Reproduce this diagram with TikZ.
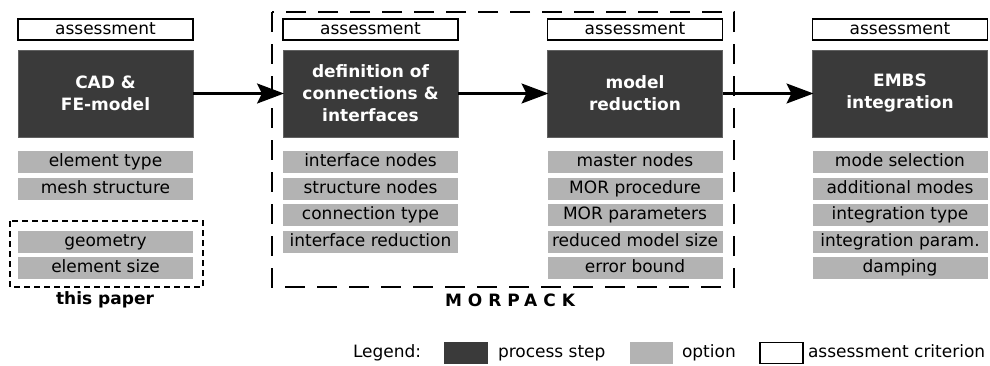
\documentclass[tikz,border=0pt]{standalone}
\usepackage{fontspec}
\setmainfont{DejaVu Sans}
\usetikzlibrary{arrows.meta}
\definecolor{darkbox}{HTML}{3A3A3A}
\definecolor{graybox}{HTML}{B3B3B3}
\tikzset{
  base/.style={inner sep=0pt, outer sep=0pt, font=\fontsize{17}{22}\selectfont, text height=12.5pt, text depth=3.5pt},
  assess/.style={base, draw=black, line width=1.3pt, fill=white, minimum width=175pt, minimum height=21pt},
  proc/.style={inner sep=0pt, outer sep=0pt, fill=darkbox, draw=darkbox!80!white, line width=0.8pt, text=white, align=center,
     font=\bfseries\fontsize{17}{22}\selectfont, minimum width=175pt, minimum height=87pt},
  opt/.style={base, fill=graybox, minimum width=175pt, minimum height=22pt},
  arr/.style={line width=2.5pt, -{Stealth[length=27pt,width=20pt,inset=5pt]}, shorten >=-1pt},
  lbl/.style={base, anchor=west},
}
\begin{document}
\begin{tikzpicture}[x=1pt,y=-1pt]
\useasboundingbox (0,0) rectangle (990,365);
% dashed groups
\draw[line width=1.4pt, dash pattern=on 6pt off 4pt] (10,221) rectangle (203,287);
\draw[line width=1.4pt, dash pattern=on 20pt off 12pt] (272,12) rectangle (734,287);
% column 1
\node[assess] (a1) at (105.5,29.5) {assessment};
\node[proc] (p1) at (105.5,93.5) {CAD \&\\FE-model};
\node[opt] (o11) at (105.5,162) {element type};
\node[opt] (o12) at (105.5,188.5) {mesh structure};
\node[opt] (o13) at (105.5,242) {geometry};
\node[opt] (o14) at (105.5,268) {element size};
\node[base, font=\bfseries\fontsize{17}{22}\selectfont] (tp) at (105,300) {this paper};
% column 2
\node[assess] (a2) at (370.5,29.5) {assessment};
\node[proc] (p2) at (370.5,93.5) {definition of\\connections \&\\interfaces};
\node[opt] (o21) at (370.5,162) {interface nodes};
\node[opt] (o22) at (370.5,188.5) {structure nodes};
\node[opt] (o23) at (370.5,215) {connection type};
\node[opt] (o24) at (370.5,241.5) {interface reduction};
% column 3
\node[assess] (a3) at (635,29.5) {assessment};
\node[proc] (p3) at (635,93.5) {model\\reduction};
\node[opt] (o31) at (635,162) {master nodes};
\node[opt] (o32) at (635,188.5) {MOR procedure};
\node[opt] (o33) at (635,215) {MOR parameters};
\node[opt] (o34) at (635,241.5) {reduced model size};
\node[opt] (o35) at (635,268) {error bound};
\node[base, font=\bfseries\fontsize{17}{22}\selectfont\addfontfeature{LetterSpace=35}] (mp) at (510,302) {MORPACK};
% column 4
\node[assess] (a4) at (900,29.5) {assessment};
\node[proc] (p4) at (900,93.5) {EMBS\\integration};
\node[opt] (o41) at (900,162) {mode selection};
\node[opt] (o42) at (900,188.5) {additional modes};
\node[opt] (o43) at (900,215) {integration type};
\node[opt] (o44) at (900,241.5) {integration param.};
\node[opt] (o45) at (900,268) {damping};
% arrows
\draw[arr] (p1.east) -- (p2.west);
\draw[arr] (p2.east) -- (p3.west);
\draw[arr] (p3.east) -- (p4.west);
% legend
\node[lbl] (lg) at (353,353) {Legend:};
\node[inner sep=0pt, fill=darkbox, minimum width=44pt, minimum height=22pt] (l1) at (466,353) {};
\node[lbl] (t1) at (498,353) {process step};
\node[inner sep=0pt, fill=graybox, minimum width=43pt, minimum height=22pt] (l2) at (651.5,353) {};
\node[lbl] (t2) at (682,353) {option};
\node[inner sep=0pt, draw=black, line width=1.2pt, fill=white, minimum width=43pt, minimum height=21pt] (l3) at (781.5,353) {};
\node[lbl] (t3) at (808,353) {assessment criterion};
\end{tikzpicture}
\end{document}
